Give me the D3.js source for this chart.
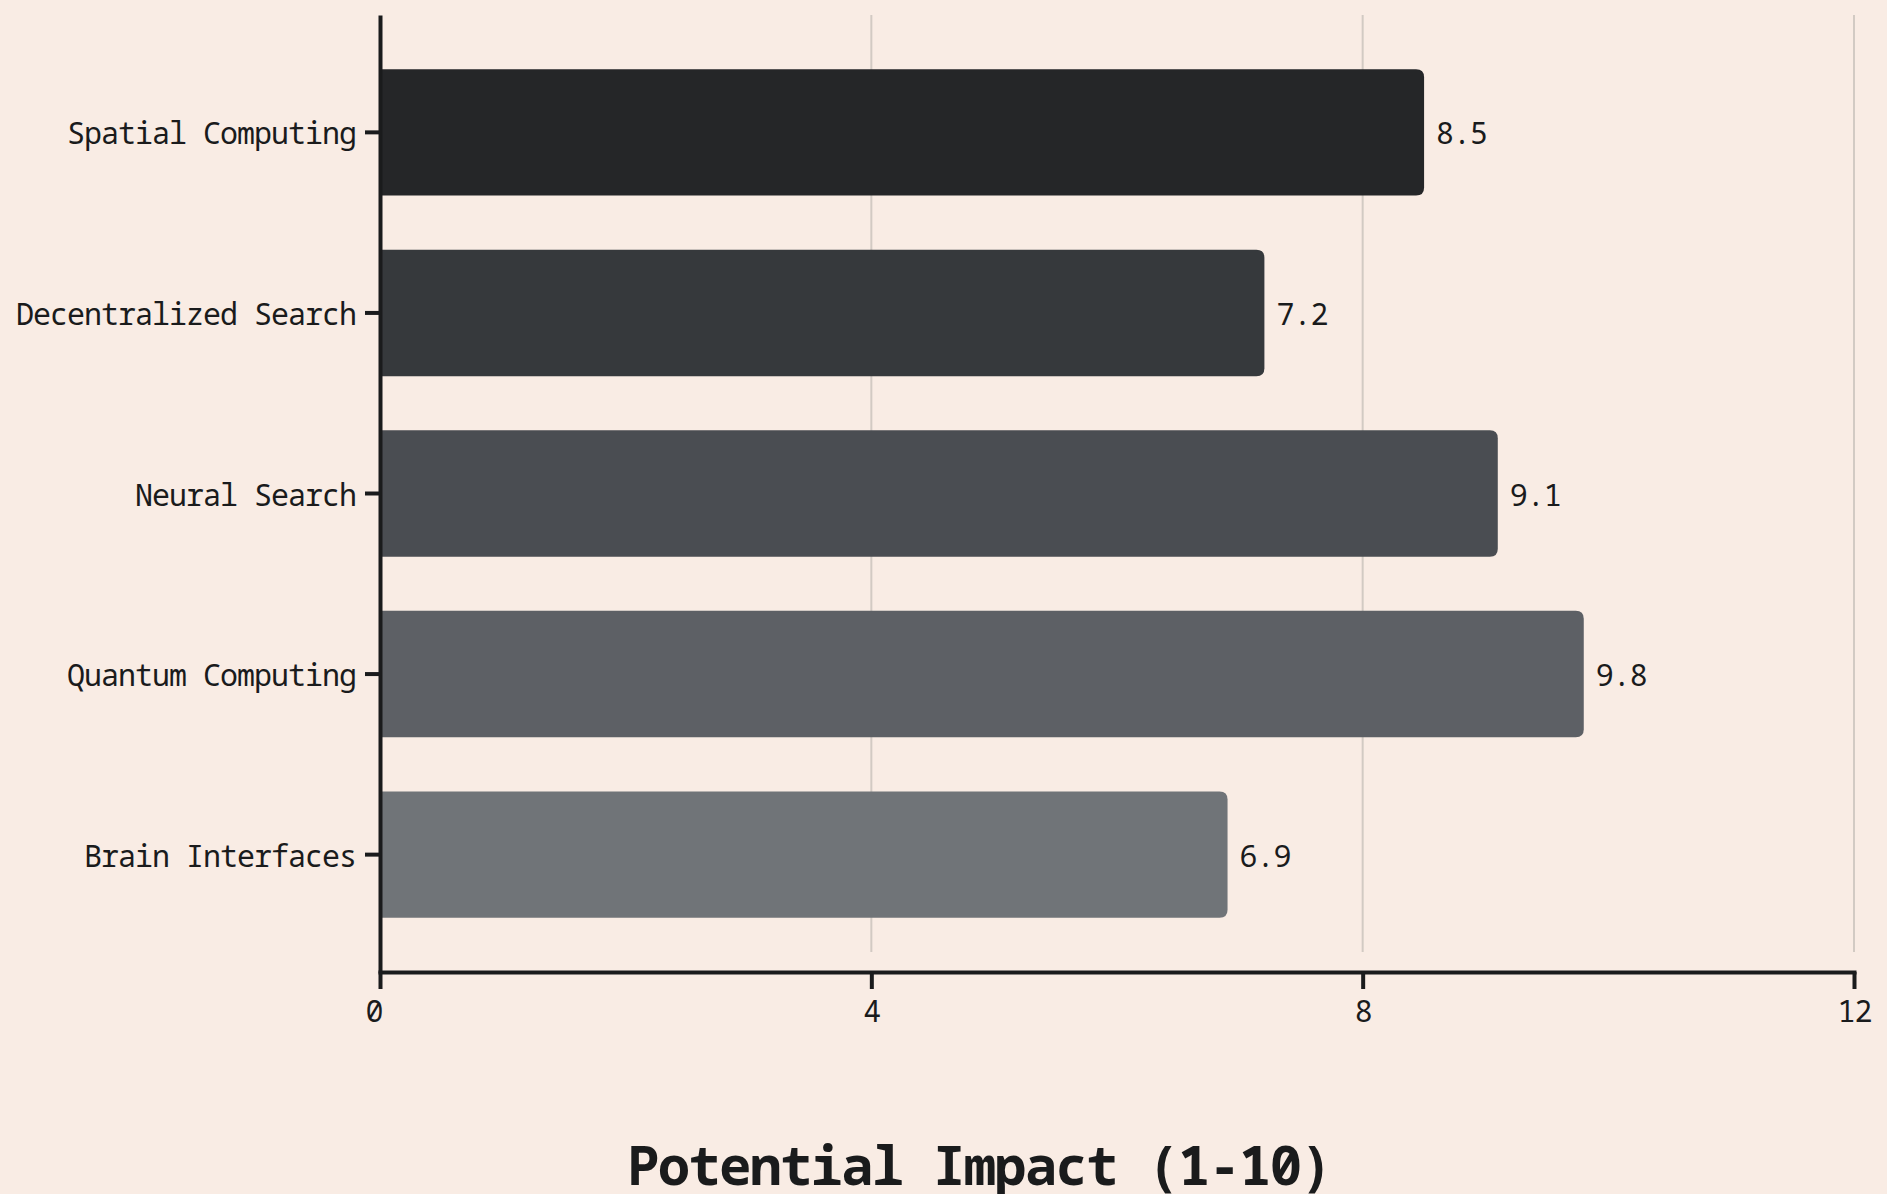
<!DOCTYPE html>
<html>
<head>
    <meta charset="UTF-8" />
    <title>Potential Impact</title>
    <script src="https://d3js.org/d3.v7.min.js"></script>
    <style type="text/css">
        html, body {
            margin: 0;
            padding: 0;
            background-color: #f9ece4;
        }
        svg text {
            font-family: 'Noto Sans Mono', 'DejaVu Sans Mono', monospace;
            fill: #1a1b1c;
        }
    </style>
</head>
<body>
<div id="chart"></div>
<script>
    var categories = ["Spatial Computing", "Decentralized Search", "Neural Search", "Quantum Computing", "Brain Interfaces"];
    var values = [8.5, 7.2, 9.1, 9.8, 6.9];
    var barColors = ["#252628", "#36393c", "#4a4d52", "#5d6065", "#707478"];
    var xTicks = [0, 4, 8, 12];
    var xTitle = "Potential Impact (1-10)";

    var W = 1887, H = 1194;
    var plotLeft = 380, plotRight = 1854, plotTop = 15, plotBottom = 972;

    var svg = d3.select("#chart")
        .append("svg")
        .attr("width", W)
        .attr("height", H);

    svg.append("rect")
        .attr("width", W)
        .attr("height", H)
        .attr("fill", "#f9ece4");

    var x = d3.scaleLinear().domain([0, 12]).range([plotLeft, plotRight]);
    var y = d3.scaleBand().domain(categories).range([plotTop, plotBottom]).paddingInner(0.3).paddingOuter(0.3);

    // grid lines
    svg.append("g")
        .selectAll("line")
        .data(xTicks.slice(1))
        .enter().append("line")
        .attr("x1", function(d){ return x(d); })
        .attr("x2", function(d){ return x(d); })
        .attr("y1", plotTop)
        .attr("y2", plotBottom - 20)
        .attr("stroke", "#d2cac3")
        .attr("stroke-width", 2);

    // bar with square left end and rounded right end
    var r = 8;
    function barPath(x0, y0, w, h) {
        return "M" + x0 + "," + y0 +
            "H" + (x0 + w - r) +
            "Q" + (x0 + w) + "," + y0 + " " + (x0 + w) + "," + (y0 + r) +
            "V" + (y0 + h - r) +
            "Q" + (x0 + w) + "," + (y0 + h) + " " + (x0 + w - r) + "," + (y0 + h) +
            "H" + x0 + "Z";
    }

    svg.append("g")
        .selectAll("path")
        .data(values)
        .enter().append("path")
        .attr("d", function(d, i){
            return barPath(x(0), y(categories[i]), x(d) - x(0), y.bandwidth());
        })
        .attr("fill", function(d, i){ return barColors[i]; });

    svg.append("g")
        .selectAll("text")
        .data(values)
        .enter().append("text")
        .attr("x", function(d){ return x(d) + 12; })
        .attr("y", function(d, i){ return y(categories[i]) + y.bandwidth() / 2; })
        .attr("dy", "0.4em")
        .style("font-size", "30px")
        .style("letter-spacing", "-1px")
        .text(function(d){ return d.toFixed(1); });

    // axes
    var xAxis = d3.axisBottom(x)
        .tickValues(xTicks)
        .tickFormat(d3.format("d"))
        .tickSize(17)
        .tickSizeOuter(0)
        .tickPadding(12);

    var gx = svg.append("g")
        .attr("transform", "translate(0," + plotBottom + ")")
        .call(xAxis);

    var yAxis = d3.axisLeft(y)
        .tickSize(15)
        .tickSizeOuter(0)
        .tickPadding(9);

    var gy = svg.append("g")
        .attr("transform", "translate(" + plotLeft + ",0)")
        .call(yAxis);

    [gx, gy].forEach(function(g){
        g.select(".domain").attr("stroke", "#1a1b1c").attr("stroke-width", 4).attr("stroke-linecap", "square");
        g.selectAll(".tick line").attr("stroke", "#1a1b1c").attr("stroke-width", 4);
        g.selectAll(".tick text")
            .attr("fill", "#1a1b1c")
            .style("font-size", "30px")
            .style("letter-spacing", "-1px")
            .style("font-family", "'Noto Sans Mono', 'DejaVu Sans Mono', monospace");
    });

    gy.selectAll(".tick text").attr("dy", "0.4em");

    gx.selectAll(".tick text")
        .attr("text-anchor", function(d){ return d === 0 ? "end" : "middle"; })
        .attr("dx", function(d){ return d === 0 ? "2" : "0"; });

    gy.select(".domain").attr("stroke-linecap", "butt");

    svg.append("text")
        .attr("x", 979)
        .attr("y", 1185)
        .attr("text-anchor", "middle")
        .style("font-size", "54px")
        .style("font-weight", "bold")
        .style("letter-spacing", "-1.8px")
        .text(xTitle);
</script>
</body>
</html>
